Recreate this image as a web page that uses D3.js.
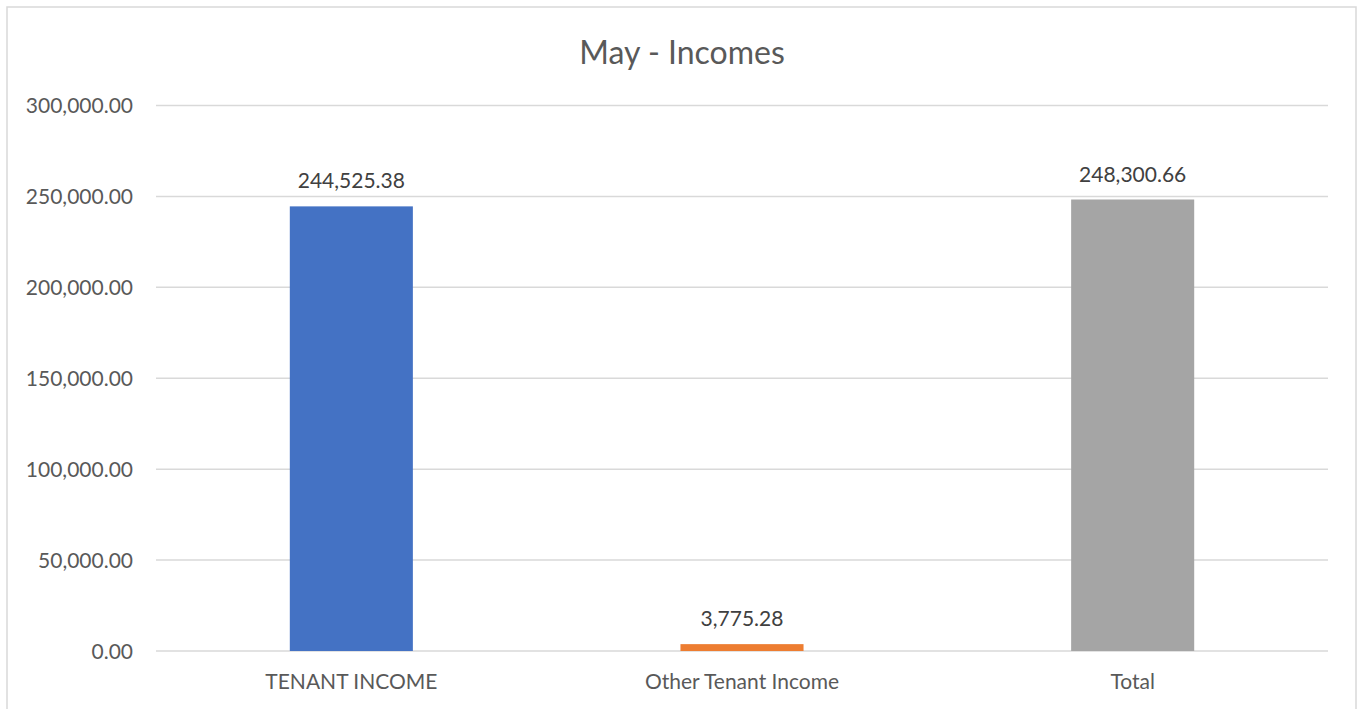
<!DOCTYPE html>
<html><head><meta charset="utf-8">
<script src="https://cdn.jsdelivr.net/npm/d3@7"></script>
<style>html,body{margin:0;padding:0;background:#fff;overflow:hidden}</style>
</head><body>
<svg id="c" width="1361" height="709"></svg>
<script>
const title = "May - Incomes";
const categories = ["TENANT INCOME", "Other Tenant Income", "Total"];
const values = [244525.38, 3775.28, 248300.66];
const colors = ["#4472C4", "#ED7D31", "#A5A5A5"];
const yTicks = [0, 50000, 100000, 150000, 200000, 250000, 300000];

const svg = d3.select("#c");
const font = "Lato, 'Noto Sans', sans-serif";
const fmt = d3.format(",.2f");

svg.append("rect").attr("x", 7).attr("y", 7).attr("width", 1349).attr("height", 760)
  .attr("fill", "#fff").attr("stroke", "#d9d9d9").attr("stroke-width", 1.5);

const x = d3.scaleBand().domain(categories).range([156, 1328]).paddingInner(0.685).paddingOuter(0.3425);
const y = d3.scaleLinear().domain([0, 300000]).range([651, 105.5]);

const grid = svg.append("g");
grid.selectAll("line").data(yTicks).join("line")
  .attr("x1", 156).attr("x2", 1328)
  .attr("y1", d => y(d)).attr("y2", d => y(d))
  .attr("stroke", "#d9d9d9").attr("stroke-width", 1.5);

const yAxis = d3.axisLeft(y).tickValues(yTicks).tickFormat(fmt).tickSize(0).tickPadding(0);
const ya = svg.append("g").attr("transform", "translate(133,0)").call(yAxis);
ya.select(".domain").remove();
ya.selectAll("text").attr("font-family", font).attr("font-size", 21).attr("fill", "#595959").attr("dy", "0.35em");

svg.append("g").selectAll("rect").data(values).join("rect")
  .attr("x", (d, i) => x(categories[i])).attr("width", x.bandwidth())
  .attr("y", d => y(d)).attr("height", d => y(0) - y(d))
  .attr("fill", (d, i) => colors[i]);

svg.append("g").selectAll("text").data(values).join("text")
  .attr("x", (d, i) => x(categories[i]) + x.bandwidth() / 2)
  .attr("y", d => y(d) - 18)
  .attr("text-anchor", "middle").attr("font-family", font).attr("font-size", 21)
  .attr("fill", "#404040").text(d => fmt(d));

const xAxis = d3.axisBottom(x).tickSize(0).tickPadding(0);
const xa = svg.append("g").attr("transform", "translate(0,689)").call(xAxis);
xa.select(".domain").remove();
xa.selectAll("text").attr("font-family", font).attr("font-size", 21).attr("fill", "#595959").attr("dy", 0);

svg.append("text").attr("x", 682).attr("y", 64).attr("text-anchor", "middle")
  .attr("font-family", font).attr("font-size", 32).attr("fill", "#595959").text(title);
</script>
</body></html>
